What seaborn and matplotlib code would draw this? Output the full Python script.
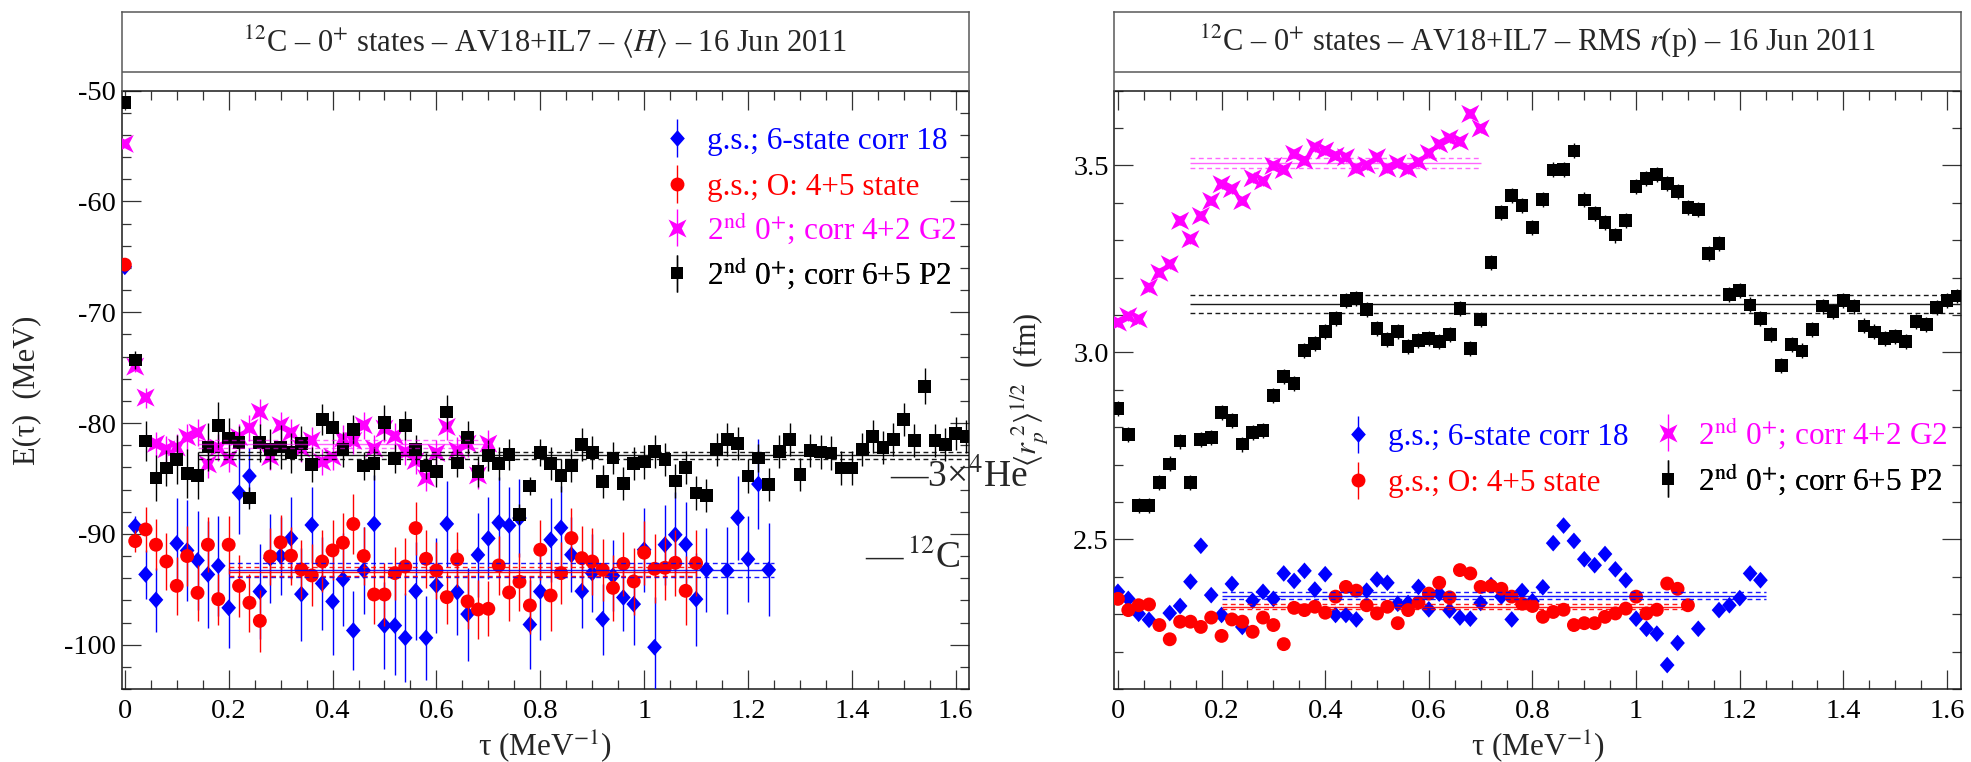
import numpy as np
import pandas as pd
import matplotlib
matplotlib.use("Agg")
import matplotlib.pyplot as plt
import seaborn as sns
from matplotlib.ticker import MultipleLocator, FuncFormatter
from matplotlib.legend_handler import HandlerErrorbar
from matplotlib.container import ErrorbarContainer
from matplotlib.path import Path

# ---------------- data ----------------
TAU_STEP = 0.02  # imaginary-time grid spacing (MeV^-1)

# Left panel: <H>  (MeV)
E_blue = [-65.9, -89.3, -93.66, -95.95, np.nan, -90.86, -91.5, -92.4, -93.66, -92.88,
          -96.67, -86.28, -84.78, -95.2, -92.2, -92.0, -90.4, -95.44, -89.2, -94.47,
          -96.1, -94.1, -98.72, -93.3, -89.1, -98.27, -98.27, -99.38, -95.17, -99.38,
          -94.65, -89.1, -95.26, -97.24, -91.9, -90.41, -88.99, -89.24, -88.57, -98.18,
          -95.2, -90.53, -89.45, -91.88, -95.17, -93.54, -97.7, -93.78, -95.74, -96.34,
          -91.43, -100.23, -90.98, -90.08, -90.95, -95.89, -93.24, np.nan, -93.3, -88.54,
          -92.28, -85.5, -93.24]
E_blue_err = [0.3, 0.9, 2.2, 2.9, 0.0, 4.1, 4.6, 4.5, 4.8, 4.5,
              3.6, 3.7, 2.5, 4.3, 4.0, 3.5, 3.7, 4.2, 3.4, 4.2,
              4.8, 4.2, 3.6, 3.9, 4.4, 3.9, 4.5, 4.0, 4.4, 3.8,
              4.3, 3.9, 3.9, 4.2, 3.8, 3.7, 4.1, 3.5, 3.5, 4.0,
              4.4, 3.8, 3.8, 3.4, 3.3, 3.5, 3.2, 3.2, 3.0, 3.7,
              3.8, 4.5, 3.6, 3.9, 3.8, 4.2, 3.8, 0.0, 3.9, 3.8,
              3.9, 4.1, 4.2]

E_red = [-65.7, -90.65, -89.6, -90.98, -92.49, -94.69, -92.0, -95.32, -90.98, -95.89,
         -90.98, -94.69, -96.22, -97.85, -92.04, -90.77, -91.97, -93.21, -93.75, -92.49,
         -91.49, -90.8, -89.11, -92.0, -95.47, -95.47, -93.54, -92.94, -89.48, -92.25,
         -93.3, -95.71, -92.31, -96.1, -96.82, -96.76, -92.85, -95.29, -94.32, -96.46,
         -91.43, -95.56, -93.54, -90.38, -92.19, -92.49, -93.24, -94.87, -92.7, -94.29,
         -91.7, -93.15, -93.06, -92.61, -95.14, -92.64]
E_red_err = [0.3, 1.0, 2.0, 2.3, 2.6, 2.6, 2.7, 2.5, 2.5, 2.3,
             2.6, 2.8, 2.6, 2.8, 2.6, 2.5, 2.6, 2.7, 2.8, 2.8,
             2.7, 2.7, 2.7, 2.6, 2.7, 2.8, 2.4, 2.6, 2.4, 2.6,
             2.6, 2.4, 2.5, 2.5, 2.7, 2.5, 2.7, 2.6, 2.6, 2.6,
             2.7, 3.2, 2.8, 2.7, 2.9, 3.0, 2.8, 3.0, 2.9, 3.0,
             2.9, 3.1, 2.9, 3.0, 3.1, 3.0]

E_mag = [-54.8, -74.9, -77.7, -81.86, -82.37, -82.2, -81.26, -80.86, -83.72, -82.22,
         -83.21, -81.26, -80.44, -78.99, -83.06, -80.2, -80.86, -82.31, -81.56, -83.51,
         -83.06, -81.41, -81.6, -80.2, -82.31, -80.5, -81.17, -82.61, -83.42, -84.96,
         -82.7, -80.35, -82.46, -81.86, -84.72, -81.86]
E_mag_err = [0.3, 0.5, 0.9, 1.1, 1.2, 1.2, 1.2, 1.2, 1.2, 1.2,
             1.2, 1.2, 1.2, 1.2, 1.2, 1.2, 1.2, 1.2, 1.2, 1.2,
             1.2, 1.2, 1.2, 1.2, 1.2, 1.2, 1.2, 1.2, 1.2, 1.2,
             1.2, 1.2, 1.2, 1.2, 1.2, 1.2]

E_blk = [-51.08, -74.3, -81.62, -84.96, -84.06, -83.3, -84.57, -84.72, -82.16, -80.2,
         -81.35, -81.77, -86.77, -81.77, -82.37, -82.16, -82.67, -81.86, -83.72, -79.69,
         -80.41, -82.4, -80.59, -83.87, -83.66, -79.96, -83.21, -80.2, -82.4, -83.87,
         -84.36, -79.0, -83.6, -81.32, -84.36, -82.91, -83.66, -82.85, -88.24, -85.68,
         -82.67, -83.66, -84.72, -83.82, -81.92, -82.67, -85.26, -83.15, -85.47, -83.66,
         -83.51, -82.55, -83.3, -85.23, -84.03, -86.31, -86.53, -82.37, -81.5, -81.86,
         -84.78, -83.15, -85.56, -82.55, -81.5, -84.66, -82.46, -82.61, -82.7, -84.06,
         -84.06, -82.37, -81.2, -82.22, -81.5, -79.66, -81.56, -76.67, -81.56, -81.92,
         -80.95, -81.2]
E_blk_err = [0.3, 0.8, 1.8, 2.1, 1.6, 2.2, 2.2, 2.1, 2.2, 2.1,
             1.8, 1.5, 1.0, 1.7, 1.8, 2.0, 1.8, 1.6, 1.6, 1.4,
             1.5, 1.6, 1.3, 1.3, 1.5, 1.6, 1.3, 1.3, 1.3, 1.2,
             1.4, 1.5, 1.3, 1.5, 1.4, 1.4, 1.5, 1.4, 0.9, 0.8,
             1.2, 1.5, 1.5, 1.5, 1.5, 1.5, 1.5, 1.4, 1.5, 1.5,
             1.5, 1.5, 1.5, 1.5, 1.5, 1.5, 1.5, 1.5, 1.5, 1.5,
             1.5, 1.3, 1.5, 1.5, 1.5, 1.5, 1.5, 1.5, 1.5, 1.5,
             1.5, 1.5, 1.5, 1.5, 1.5, 1.5, 1.5, 1.6, 1.5, 1.5,
             1.5, 1.5]

# averages: [mean, error, tau_start, tau_end]
E_avg_blue = [-93.25, 0.60, 0.20, 1.25]
E_avg_red = [-93.42, 0.42, 0.20, 1.10]
E_avg_mag = [-81.86, 0.36, 0.14, 0.70]
E_avg_blk = [-82.91, 0.30, 0.14, 1.625]

# reference energies
E_ref_levels = [-84.9, -92.2]
E_ref_tau = [1.473, 1.425]
E_ref_labels = ["—3×$^{4}$He", "—$\\,^{12}$C"]

# Right panel: RMS r(p)  (fm)
R_blue = [2.360, 2.341, 2.301, 2.285, np.nan, 2.303, 2.322, 2.387, 2.483, 2.351,
          2.298, 2.381, 2.266, 2.336, 2.360, 2.341, 2.409, 2.389, 2.416, 2.366,
          2.407, 2.298, 2.298, 2.286, 2.363, 2.393, 2.384, 2.328, 2.330, 2.373,
          2.313, 2.355, 2.310, 2.291, 2.288, 2.330, 2.378, 2.347, 2.286, 2.362,
          2.335, 2.372, 2.490, 2.537, 2.496, 2.447, 2.431, 2.461, 2.420, 2.391,
          2.288, 2.261, 2.248, 2.164, 2.223, np.nan, 2.261, np.nan, 2.311, 2.324,
          2.343, 2.409, 2.391]
R_blue_err = [0.015] * len(R_blue)

R_red = [2.341, 2.311, 2.324, 2.326, 2.271, 2.233, 2.280, 2.280, 2.266, 2.291,
         2.242, 2.286, 2.280, 2.253, 2.291, 2.271, 2.220, 2.317, 2.311, 2.320,
         2.304, 2.347, 2.373, 2.363, 2.324, 2.302, 2.320, 2.276, 2.311, 2.331,
         2.355, 2.384, 2.345, 2.418, 2.409, 2.373, 2.375, 2.368, 2.347, 2.328,
         2.322, 2.293, 2.306, 2.312, 2.271, 2.276, 2.276, 2.293, 2.302, 2.315,
         2.347, 2.302, 2.312, 2.382, 2.368, 2.324]
R_red_err = [0.008] * len(R_red)

R_mag = [3.080, 3.097, 3.089, 3.174, 3.213, 3.236, 3.352, 3.303, 3.365, 3.405,
         3.450, 3.437, 3.405, 3.466, 3.458, 3.499, 3.488, 3.531, 3.513, 3.549,
         3.540, 3.526, 3.522, 3.492, 3.501, 3.522, 3.492, 3.506, 3.490, 3.509,
         3.533, 3.557, 3.573, 3.564, 3.638, 3.599]
R_mag_err = [0.012] * len(R_mag)

R_blk = [2.851, 2.781, 2.590, 2.590, 2.653, 2.702, 2.763, 2.653, 2.768, 2.773,
         2.840, 2.817, 2.755, 2.786, 2.791, 2.885, 2.935, 2.917, 3.006, 3.024,
         3.057, 3.091, 3.138, 3.145, 3.115, 3.065, 3.035, 3.057, 3.015, 3.031,
         3.038, 3.029, 3.047, 3.118, 3.011, 3.089, 3.240, 3.375, 3.419, 3.394,
         3.334, 3.410, 3.488, 3.490, 3.539, 3.408, 3.372, 3.348, 3.314, 3.352,
         3.443, 3.466, 3.476, 3.452, 3.430, 3.387, 3.383, 3.265, 3.292, 3.155,
         3.165, 3.127, 3.091, 3.049, 2.966, 3.022, 3.004, 3.062, 3.124, 3.109,
         3.138, 3.124, 3.071, 3.055, 3.038, 3.042, 3.029, 3.082, 3.075, 3.121,
         3.138, 3.151]
R_blk_err = [0.02] * len(R_blk)

R_avg_blue = [2.3495, 0.010, 0.20, 1.25]
R_avg_red = [2.320, 0.007, 0.20, 1.10]
R_avg_mag = [3.507, 0.0135, 0.14, 0.70]
R_avg_blk = [3.129, 0.024, 0.14, 1.625]

labels = ["g.s.; 6-state corr 18", "g.s.; O: 4+5 state",
          "2$^{\\rm nd}$ 0$^{+}$; corr 4+2 G2", "2$^{\\rm nd}$ 0$^{+}$; corr 6+5 P2"]
colors = ["#0000ff", "#ff0000", "#ff00ff", "#000000"]
titles = ["$^{12}$C – 0$^{+}$ states – AV18+IL7 – $\\langle H\\rangle$ – 16 Jun 2011",
          "$^{12}$C – 0$^{+}$ states – AV18+IL7 – RMS $r$(p) – 16 Jun 2011"]

# ---------------- style ----------------
sns.set_style("ticks")
plt.rcParams["font.family"] = ["Liberation Serif", "DejaVu Serif"]
plt.rcParams["mathtext.fontset"] = "stix"
plt.rcParams["axes.unicode_minus"] = False

star = Path([(1, 1), (0, 0.48), (-1, 1), (-0.48, 0), (-1, -1), (0, -0.48),
             (1, -1), (0.48, 0), (1, 1)], closed=True)
diamond = Path([(0, 1), (0.88, 0), (0, -1), (-0.88, 0), (0, 1)], closed=True)
markers = [diamond, "o", star, "s"]
msizes = [12.0, 10.0, 13.0, 9.2]   # points

W, H = 1971, 762
fig = plt.figure(figsize=(W / 100, H / 100), dpi=100)


def fx(px):
    return px / W


def fy(py):
    return 1 - py / H


ax_top, ax_bot = 90.7, 689.0
title_top, title_sep = 11.7, 72.3
panels = [(121.7, 968.7), (1114.3, 1961.0)]


def make_panel(x0, x1, title):
    ax = fig.add_axes([fx(x0), fy(ax_bot), (x1 - x0) / W, (ax_bot - ax_top) / H])
    tax = fig.add_axes([fx(x0), fy(ax_top), (x1 - x0) / W, (ax_top - title_top) / H])
    tax.set_xticks([]); tax.set_yticks([])
    tax.set_xlim(0, 1); tax.set_ylim(0, 1)
    for s in ["left", "right", "top"]:
        tax.spines[s].set_color("0.35"); tax.spines[s].set_linewidth(1.1)
    tax.spines["bottom"].set_visible(False)
    sep = (ax_top - title_sep) / (ax_top - title_top)
    tax.axhline(sep, color="0.35", lw=1.1)
    tax.text(0.5, 0.50, title, ha="center", va="baseline", fontsize=22)
    tax.patch.set_alpha(0)
    return ax


def draw_series(ax, vals, errs, color, marker, ms, z):
    tau = np.arange(len(vals)) * TAU_STEP
    df = pd.DataFrame({"tau": tau, "v": vals, "e": errs}).dropna()
    ax.errorbar(df["tau"], df["v"], yerr=df["e"], fmt="none", ecolor=color,
                elinewidth=1.0, capsize=0, zorder=z)
    sns.scatterplot(data=df, x="tau", y="v", marker=marker, color=color, s=ms ** 2,
                    linewidth=0, edgecolor="none", ax=ax, zorder=z + 0.5, legend=False)


def draw_avg(ax, avg, color, alpha):
    m, e, t0, t1 = avg
    ax.hlines(m, t0, t1, colors=color, lw=1.0, alpha=alpha, zorder=10)
    ax.hlines([m + e, m - e], t0, t1, colors=color, lw=1.0, alpha=alpha,
              linestyles=(0, (3.5, 2.5)), zorder=10)


def style_axes(ax, major_y, minor_y, fmt_y):
    ax.xaxis.set_major_locator(MultipleLocator(0.2))
    ax.xaxis.set_minor_locator(MultipleLocator(0.05))
    ax.xaxis.set_major_formatter(FuncFormatter(lambda v, p: "%g" % round(v, 3)))
    ax.yaxis.set_major_locator(MultipleLocator(major_y))
    ax.yaxis.set_minor_locator(MultipleLocator(minor_y))
    ax.yaxis.set_major_formatter(FuncFormatter(fmt_y))
    ax.tick_params(which="both", direction="in", top=True, right=True,
                   colors="0.2", width=0.9, labelcolor="black", labelsize=20.5)
    ax.tick_params(which="major", length=13.7)
    ax.tick_params(which="minor", length=6.6)
    ax.tick_params(axis="x", pad=7)
    ax.tick_params(axis="y", pad=4)
    for s in ax.spines.values():
        s.set_color("0.1"); s.set_linewidth(1.1)


LEG_FS = 22.5
LEG_HL = 0.6
LEG_PAD = 0.66


def add_legend_entries(ax, x0, x1, positions):
    """positions: list of (marker_x_px, row_center_y_px) per entry."""
    fs_px = LEG_FS / 72 * 100
    for lab, c, mk, ms, (mx, my) in zip(labels, colors, markers, msizes, positions):
        h = ax.errorbar([np.nan], [np.nan], yerr=[1.0], marker=mk, ls="none",
                        color=c, ms=ms, mew=0, elinewidth=1.0, capsize=0, label=lab)
        if "$" not in lab:
            my = my + 4.5
        left = mx - LEG_HL * fs_px / 2
        bx = (left - x0) / (x1 - x0)
        by = (ax_bot - my) / (ax_bot - ax_top)
        leg = ax.legend(handles=[h], loc="center left", bbox_to_anchor=(bx, by),
                        frameon=False, fontsize=LEG_FS, handlelength=LEG_HL,
                        handletextpad=LEG_PAD, borderpad=0, borderaxespad=0,
                        numpoints=1,
                        handler_map={ErrorbarContainer: HandlerErrorbar(yerr_size=0.6)})
        leg.get_texts()[0].set_color(c)
        leg.set_zorder(20)
        ax.add_artist(leg)


series_E = [(E_blue, E_blue_err), (E_red, E_red_err), (E_mag, E_mag_err), (E_blk, E_blk_err)]
avgs_E = [E_avg_blue, E_avg_red, E_avg_mag, E_avg_blk]
series_R = [(R_blue, R_blue_err), (R_red, R_red_err), (R_mag, R_mag_err), (R_blk, R_blk_err)]
avgs_R = [R_avg_blue, R_avg_red, R_avg_mag, R_avg_blk]
alphas = [0.9, 0.9, 0.6, 0.9]

# ---------------- left panel ----------------
axL = make_panel(*panels[0], titles[0])
for i, ((v, e), c, mk, ms) in enumerate(zip(series_E, colors, markers, msizes)):
    draw_series(axL, v, e, c, mk, ms, 3 + i)
for avg, c, a in zip(avgs_E, colors, alphas):
    draw_avg(axL, avg, c, a)
style_axes(axL, 10, 2, lambda v, p: "%d" % round(v))
axL.set_xlim(-0.006, 1.625)
axL.set_ylim(-104, -50)
axL.set_xlabel("τ (MeV$^{-1}$)", fontsize=22.5)
axL.xaxis.label.set_va("center")
axL.xaxis.set_label_coords(0.5, -0.097)
axL.set_ylabel("E(τ)  (MeV)", fontsize=22)
axL.yaxis.label.set_va("center")
axL.yaxis.set_label_coords((27 - 121.7) / 847.0, 0.5)
for lvl, t, lab in zip(E_ref_levels, E_ref_tau, E_ref_labels):
    axL.text(t, lvl - 0.9, lab, fontsize=27, va="baseline", clip_on=False, zorder=12)
add_legend_entries(axL, *panels[0],
                   [(677, 136.7), (677, 182.7), (677, 228.3), (677, 274.0)])

# ---------------- right panel ----------------
axR = make_panel(*panels[1], titles[1])
for i, ((v, e), c, mk, ms) in enumerate(zip(series_R, colors, markers, msizes)):
    draw_series(axR, v, e, c, mk, ms, 3 + i)
for avg, c, a in zip(avgs_R, colors, alphas):
    draw_avg(axR, avg, c, a)
style_axes(axR, 0.5, 0.1, lambda v, p: "%.1f" % v)
axR.set_xlim(-0.007, 1.627)
axR.set_ylim(2.1, 3.7)
axR.set_xlabel("τ (MeV$^{-1}$)", fontsize=22.5)
axR.xaxis.label.set_va("center")
axR.xaxis.set_label_coords(0.5, -0.097)
axR.set_ylabel("$\\langle r_{p}^{\\ 2}\\rangle^{1/2}$  (fm)", fontsize=22)
axR.yaxis.label.set_va("center")
axR.yaxis.set_label_coords((1030 - 1114.3) / 846.7, 0.5)
add_legend_entries(axR, *panels[1],
                   [(1357.5, 433.3), (1357.5, 479.3), (1668, 433.3), (1668, 479.3)])

fig.savefig("out.png", dpi=100)
